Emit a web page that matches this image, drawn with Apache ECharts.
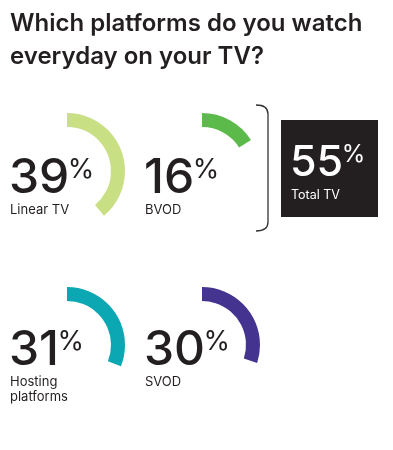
<!DOCTYPE html>
<html>
<head>
<meta charset="utf-8">
<script src="https://cdn.jsdelivr.net/npm/echarts@6/dist/echarts.min.js"></script>
<style>
html,body{margin:0;padding:0;background:#fff;}
#chart{width:393px;height:450px;}
</style>
</head>
<body>
<div id="chart"></div>
<script>
const titleText = 'Which platforms do you watch\neveryday on your TV?';
const categories = ['Linear TV', 'BVOD', 'Hosting\nplatforms', 'SVOD'];
const values = [39, 16, 31, 30];
const totalLabel = 'Total TV';
const totalValue = 55;

const colors = ['#c9df84', '#5cba4a', '#0ba8b3', '#45348f'];
const centers = [[67, 171], [202, 171], [67, 345], [202, 345]];
// [x, cap-centre y of number]
const numPos = [[9, 178.5], [144, 178.5], [9, 350.5], [144, 350.5]];
const FAM = 'Inter';
const FONT = 'Inter, "Noto Sans", sans-serif';
const DARK = '#231f20';

const mctx = document.createElement('canvas').getContext('2d');
function measure(txt, size, weight) {
  mctx.font = weight + ' ' + size + 'px ' + FAM;
  return mctx.measureText(txt).width;
}

const chart = echarts.init(document.getElementById('chart'), null, {renderer: 'canvas'});

const series = values.map((v, i) => ({
  type: 'pie',
  center: centers[i],
  radius: [44, 58],
  startAngle: 90,
  clockwise: true,
  silent: true,
  animation: false,
  label: {show: false},
  labelLine: {show: false},
  emphasis: {disabled: true},
  data: [
    {value: v, name: categories[i], itemStyle: {color: colors[i]}},
    {value: 100 - v, name: 'rest', itemStyle: {color: 'rgba(0,0,0,0)'}}
  ]
}));

const graphics = [];
graphics.push({
  type: 'text', x: 10, y: 8,
  style: {text: titleText, fontSize: 24, fontWeight: 600, fontFamily: FONT, fill: DARK, lineHeight: 32.5, verticalAlign: 'top'}
});

function bigNumber(val, x, cy, size, pSize, pDy, color) {
  const w = measure(String(val), size, 500);
  graphics.push({
    type: 'text', x: x, y: cy,
    style: {text: String(val), fontSize: size, fontWeight: 500, fontFamily: FONT, fill: color, verticalAlign: 'middle'}
  });
  graphics.push({
    type: 'text', x: x + w - 1.5, y: cy + pDy,
    style: {text: '%', fontSize: pSize, fontWeight: 400, fontFamily: FONT, fill: color, verticalAlign: 'middle'}
  });
}

values.forEach((v, i) => {
  bigNumber(v, numPos[i][0], numPos[i][1], 48, 27, -8.5, DARK);
  graphics.push({
    type: 'text', x: numPos[i][0] + 1, y: numPos[i][1] + 24.5,
    style: {text: categories[i], fontSize: 13, fontFamily: FONT, fill: DARK, lineHeight: 14.5, verticalAlign: 'top'}
  });
});
// bracket
const bStyle = {stroke: '#333', lineWidth: 1.3, fill: 'none'};
graphics.push({type: 'bezierCurve', shape: {x1: 256, y1: 105, cpx1: 268, cpy1: 105, x2: 268, y2: 114}, style: bStyle});
graphics.push({type: 'line', shape: {x1: 268, y1: 114, x2: 268, y2: 222}, style: bStyle});
graphics.push({type: 'bezierCurve', shape: {x1: 268, y1: 222, cpx1: 268, cpy1: 231, x2: 256, y2: 231}, style: bStyle});
// total box
graphics.push({
  type: 'rect', shape: {x: 281, y: 120, width: 97, height: 97},
  style: {fill: DARK}
});
bigNumber(totalValue, 290, 163.5, 43, 24, -9, '#fff');
graphics.push({
  type: 'text', x: 291, y: 195,
  style: {text: totalLabel, fontSize: 12.5, fontFamily: FONT, fill: '#fff', verticalAlign: 'middle'}
});

chart.setOption({
  animation: false,
  series: series,
  graphic: graphics
});
</script>
</body>
</html>
